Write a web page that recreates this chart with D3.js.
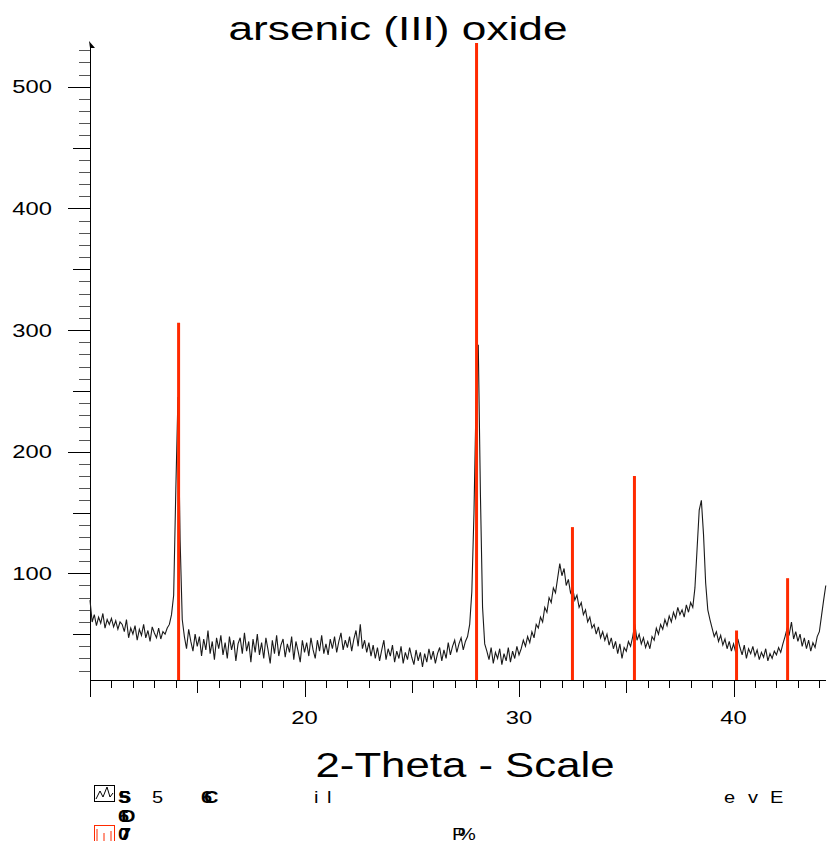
<!DOCTYPE html>
<html>
<head>
<meta charset="utf-8">
<script src="https://cdn.jsdelivr.net/npm/d3@7"></script>
<style>
  body { margin: 0; background: #fff; }
  svg { font-family: "Liberation Sans", Arial, sans-serif; }
</style>
</head>
<body>
<svg id="chart" width="827" height="841"></svg>
<script>
// scan: 2-theta from 10.0 in steps of 0.1, counts
const scanStart = 10.0
const scanStep = 0.1
const counts = [
  78, 60, 66, 57, 64, 59, 67, 55, 62, 58,
  63, 56, 61, 54, 60, 58, 52, 62, 47, 55,
  50, 57, 45, 54, 49, 58, 47, 53, 44, 56,
  51, 47, 55, 46, 52, 50, 55, 58, 66, 82,
  168, 245, 128, 62, 48, 38, 54, 44, 36, 50,
  40, 48, 32, 46, 37, 53, 34, 44, 29, 47,
  38, 49, 33, 43, 30, 48, 37, 45, 28, 42,
  47, 34, 51, 36, 44, 27, 46, 35, 50, 33,
  43, 30, 47, 37, 26, 45, 34, 49, 32, 41,
  46, 31, 42, 35, 48, 29, 44, 36, 27, 45,
  35, 43, 32, 47, 37, 30, 45, 36, 49, 34,
  42, 33, 46, 38, 48, 35, 44, 51, 37, 45,
  39, 48, 36, 46, 53, 40, 58, 38, 45, 35,
  43, 32, 41, 30, 39, 28, 37, 45, 29, 38,
  32, 41, 27, 36, 30, 40, 26, 35, 29, 39,
  31, 25, 37, 28, 35, 23, 34, 27, 38, 29,
  36, 26, 34, 39, 28, 37, 30, 43, 33, 40,
  45, 35, 42, 47, 37, 44, 48, 58, 85, 150,
  245, 288, 165, 72, 42, 36, 29, 39, 26, 35,
  30, 38, 25, 34, 28, 39, 27, 36, 30, 40,
  33, 38, 45, 40, 48, 43, 52, 47, 58, 55,
  64, 60, 72, 68, 80, 76, 88, 84, 96, 108,
  98, 104, 90, 95, 84, 88, 78, 82, 72, 76,
  66, 70, 60, 64, 55, 58, 50, 56, 47, 52,
  45, 50, 41, 47, 38, 44, 34, 42, 30, 39,
  36, 44, 40, 48, 58, 45, 50, 42, 47, 39,
  44, 38, 48, 45, 55, 50, 58, 54, 62, 57,
  65, 60, 68, 63, 72, 66, 70, 64, 74, 68,
  76, 72, 88, 120, 152, 160, 132, 92, 70, 62,
  55, 48, 52, 44, 49, 41, 46, 38, 44, 36,
  42, 35, 46, 39, 33, 41, 30, 38, 34, 40,
  32, 37, 29, 35, 31, 38, 28, 34, 30, 36,
  33, 39, 35, 42, 48, 55, 50, 60, 46, 52,
  44, 50, 40, 47, 38, 45, 36, 43, 39, 48,
  52, 65, 78, 90
]

// reference pattern sticks
const stickPos = [14.13, 28.02, 32.49, 35.38, 40.14, 42.52]
const stickHeight = [306, 540, 138, 180, 53, 96]

const xTickLabels = [20, 30, 40]
const yTickLabels = [100, 200, 300, 400, 500]

const svg = d3.select('#chart')
const stretch = 1.32   // the source font is drawn wide

const x = d3.scaleLinear().domain([10, 44.31]).range([90, 826])
const y = d3.scaleLinear().domain([12.3, 536]).range([680, 43])

const scan = counts.map((c, i) => ({ t: scanStart + i * scanStep, c }))

function wideText(parent, tx, ty, s) {
  return parent.append('text')
    .attr('transform', `translate(${tx},${ty}) scale(${s},1)`)
}

// y axis ticks
const yTicks = d3.range(20, 531, 10)
svg.append('g')
  .selectAll('line')
  .data(yTicks)
  .join('line')
  .attr('x1', d => d % 100 === 0 ? 68 : d % 50 === 0 ? 73 : 79)
  .attr('x2', 90)
  .attr('y1', d => Math.round(y(d)) + 0.5)
  .attr('y2', d => Math.round(y(d)) + 0.5)
  .attr('stroke', d => d % 50 === 0 ? '#000' : '#555')
  .attr('stroke-width', 1)

const yLab = svg.append('g')
yTickLabels.forEach(d => {
  wideText(yLab, 52, y(d), stretch)
    .attr('dy', '0.36em')
    .attr('text-anchor', 'end')
    .attr('font-size', 18)
    .text(d)
})

// x axis ticks
const xTicks = d3.range(10, 45, 1)
svg.append('g')
  .selectAll('line')
  .data(xTicks)
  .join('line')
  .attr('x1', d => Math.round(x(d)) + 0.5)
  .attr('x2', d => Math.round(x(d)) + 0.5)
  .attr('y1', 680)
  .attr('y2', d => d % 10 === 0 ? 697 : d % 5 === 0 ? 693 : 688)
  .attr('stroke', '#000')

const xLab = svg.append('g')
xTickLabels.forEach(d => {
  wideText(xLab, x(d), 724, stretch)
    .attr('text-anchor', 'middle')
    .attr('font-size', 18)
    .text(d)
})

// axis lines
svg.append('line')
  .attr('x1', 90.5).attr('x2', 90.5)
  .attr('y1', 681).attr('y2', 44)
  .attr('stroke', '#000')
svg.append('line')
  .attr('x1', 90).attr('x2', 826)
  .attr('y1', 680.5).attr('y2', 680.5)
  .attr('stroke', '#000')
svg.append('path')
  .attr('d', 'M89,41 L95,48 L90,48 Z')
  .attr('fill', '#000')

// measured scan
const line = d3.line()
  .x(d => x(d.t))
  .y(d => y(d.c))

svg.append('path')
  .datum(scan)
  .attr('fill', 'none')
  .attr('stroke', '#1a1a1a')
  .attr('stroke-width', 1.1)
  .attr('d', line)

// sticks
svg.append('g')
  .selectAll('line')
  .data(stickPos)
  .join('line')
  .attr('x1', d => x(d))
  .attr('x2', d => x(d))
  .attr('y1', 680)
  .attr('y2', (d, i) => Math.max(y(stickHeight[i]), 43))
  .attr('stroke', '#ff2a00')
  .attr('stroke-width', 3)

// titles
wideText(svg, 398, 40, 1.3)
  .attr('text-anchor', 'middle')
  .attr('font-size', 34)
  .text('arsenic (III) oxide')

wideText(svg, 465, 777, 1.25)
  .attr('text-anchor', 'middle')
  .attr('font-size', 35)
  .text('2-Theta - Scale')

// legend (garbled in the source, overlapping glyphs)
const legend = svg.append('g')
legend.append('rect')
  .attr('x', 94.5).attr('y', 785.5).attr('width', 20).attr('height', 16)
  .attr('fill', 'none').attr('stroke', '#000')
legend.append('path')
  .attr('d', 'M96,799 L100,791 L103,797 L107,787 L110,797 L113,793')
  .attr('fill', 'none').attr('stroke', '#000')
legend.append('rect')
  .attr('x', 94.5).attr('y', 825.5).attr('width', 20).attr('height', 16)
  .attr('fill', 'none').attr('stroke', '#ff2a00')
legend.append('path')
  .attr('d', 'M97,841 V829 M104,841 V833 M111,841 V831')
  .attr('fill', 'none').attr('stroke', '#ff2a00')

const legendTexts = [
  { t: 'S', x: 118, y: 803, b: true }, { t: '5', x: 119, y: 803, b: true },
  { t: '5', x: 152, y: 803, b: false },
  { t: '6', x: 201, y: 803, b: true }, { t: 'C', x: 204, y: 803, b: true },
  { t: 'i', x: 314, y: 803, b: false }, { t: 'l', x: 327, y: 803, b: false },
  { t: 'e', x: 724, y: 803, b: false }, { t: 'v', x: 748, y: 803, b: false },
  { t: 'E', x: 770, y: 803, b: false },
  { t: '6', x: 118, y: 822, b: true }, { t: 'D', x: 121, y: 822, b: true },
  { t: '0', x: 118, y: 840, b: true }, { t: '7', x: 120, y: 840, b: true },
  { t: 'P', x: 452, y: 840, b: false }, { t: '%', x: 458, y: 840, b: false }
]
legendTexts.forEach(d => {
  wideText(legend, d.x, d.y, 1.25)
    .attr('font-size', 16)
    .attr('font-weight', d.b ? 'bold' : 'normal')
    .text(d.t)
})
</script>
</body>
</html>
